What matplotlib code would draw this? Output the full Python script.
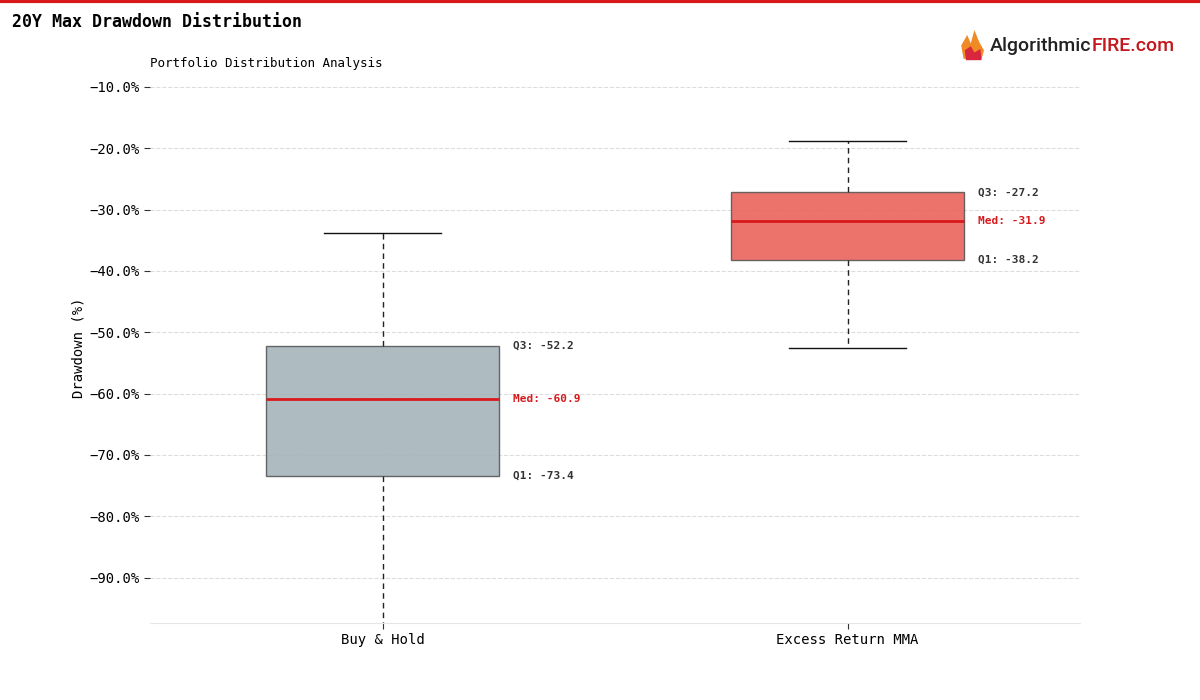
import matplotlib
matplotlib.use("Agg")
import matplotlib.pyplot as plt
from matplotlib.patches import Polygon
from matplotlib.ticker import FuncFormatter

categories = ["Buy & Hold", "Excess Return MMA"]
whislo = [-99.0, -52.6]
q1 = [-73.4, -38.2]
med = [-60.9, -31.9]
q3 = [-52.2, -27.2]
whishi = [-33.8, -18.8]
box_colors = ["#a3b2b9", "#ea5f58"]

plt.rcParams['font.family'] = ['DejaVu Sans Mono', 'DejaVu Sans']

fig = plt.figure(figsize=(12, 7), dpi=100)
ax = fig.add_axes([0.125, 0.11, 0.775, 0.785])

stats = []
for i, c in enumerate(categories):
    stats.append(dict(label=c, whislo=whislo[i], q1=q1[i], med=med[i],
                      q3=q3[i], whishi=whishi[i], fliers=[]))

bp = ax.bxp(stats, positions=[0, 1], widths=0.5, patch_artist=True,
            showfliers=False,
            medianprops=dict(color="#d7191c", linewidth=2),
            whiskerprops=dict(color="#222222", linestyle=(0, (4, 3)), linewidth=1),
            capprops=dict(color="#111111", linewidth=1),
            boxprops=dict(edgecolor="#555555", linewidth=1))
for patch, col in zip(bp['boxes'], box_colors):
    patch.set_facecolor(col)
    patch.set_alpha(0.88)
    patch.set_edgecolor("#555555")

for i in range(len(categories)):
    x = i + 0.28
    ax.text(x, q3[i], f"Q3: {q3[i]:.1f}", fontsize=8, fontweight='bold',
            color="#333333", va='center', ha='left')
    ax.text(x, med[i], f"Med: {med[i]:.1f}", fontsize=8, fontweight='bold',
            color="#d7191c", va='center', ha='left')
    ax.text(x, q1[i], f"Q1: {q1[i]:.1f}", fontsize=8, fontweight='bold',
            color="#333333", va='center', ha='left')

ax.set_xlim(-0.5, 1.5)
ax.set_ylim(-97.4, -7.8)
ax.set_yticks([-10, -20, -30, -40, -50, -60, -70, -80, -90])
ax.yaxis.set_major_formatter(FuncFormatter(lambda v, p: f"{v:.1f}%".replace("-", "\u2212")))
ax.tick_params(axis='y', labelsize=10, length=4, color="#333333")
ax.tick_params(axis='x', labelsize=10, length=4, color="#333333")
ax.grid(axis='y', linestyle='--', color="#dddddd", linewidth=0.8)
ax.set_axisbelow(True)
for s in ['top', 'right', 'left']:
    ax.spines[s].set_visible(False)
ax.spines['bottom'].set_color("#e6e6e6")
ax.set_ylabel("Drawdown (%)", fontsize=10, labelpad=2.5)
ax.set_title("Portfolio Distribution Analysis", loc='left', fontsize=9, pad=5)

fig.text(0.01, 0.968, "20Y Max Drawdown Distribution", fontsize=12,
         fontweight='bold', va='center', ha='left')
fig.add_artist(plt.Line2D([0, 1], [0.998, 0.998], color="#d7191c", linewidth=3,
                          transform=fig.transFigure))

# logo
t1 = fig.text(0.825, 0.927, "Algorithmic", fontsize=14, color="#222222",
              family="Roboto", fontweight='medium', va='baseline', ha='left')
fig.canvas.draw()
bb = t1.get_window_extent(renderer=fig.canvas.get_renderer())
x2 = bb.x1 / fig.bbox.width
fig.text(x2, 0.927, "FIRE.com", fontsize=14, color="#c4161c",
         family="Roboto", fontweight='medium', va='baseline', ha='left')
flame1 = Polygon([[0.803, 0.916], [0.801, 0.935], [0.806, 0.950], [0.809, 0.938],
                  [0.812, 0.957], [0.816, 0.940], [0.820, 0.928], [0.818, 0.916]],
                 closed=True, transform=fig.transFigure, facecolor="#f08a24",
                 edgecolor='none')
flame2 = Polygon([[0.805, 0.914], [0.804, 0.928], [0.809, 0.934], [0.812, 0.925],
                  [0.817, 0.930], [0.818, 0.914]],
                 closed=True, transform=fig.transFigure, facecolor="#d7263d",
                 edgecolor='none')
fig.add_artist(flame1)
fig.add_artist(flame2)

fig.savefig("out.png", dpi=100)
